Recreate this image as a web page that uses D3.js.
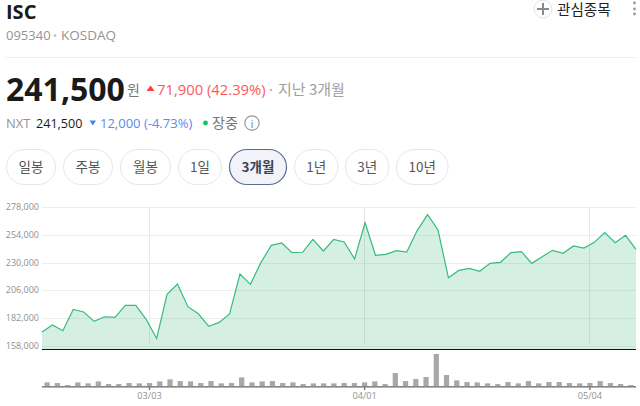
<!DOCTYPE html>
<html><head><meta charset="utf-8">
<script src="https://cdn.jsdelivr.net/npm/d3@7/dist/d3.min.js"></script>
<style>html,body{margin:0;padding:0;background:#fff;overflow:hidden}svg{display:block}
text{font-family:"Noto Sans CJK KR","Noto Sans",sans-serif}
.num{font-family:"Open Sans","Noto Sans CJK KR",sans-serif}</style></head><body><svg id="c" width="640" height="406"></svg>
<script>
const dates=["02/11","02/12","02/13","02/19","02/20","02/23","02/24","02/25","02/26","02/27","03/03","03/04","03/05","03/06","03/09","03/10","03/11","03/12","03/13","03/16","03/17","03/18","03/19","03/20","03/23","03/24","03/25","03/26","03/27","03/30","03/31","04/01","04/02","04/03","04/06","04/07","04/08","04/09","04/10","04/13","04/14","04/15","04/16","04/17","04/20","04/21","04/22","04/23","04/24","04/27","04/28","04/29","04/30","05/04","05/06","05/07","05/08","05/11"];
const prices=[169800,175900,171000,189500,187200,179100,183100,182600,193000,193000,180800,164300,202500,211500,191800,185700,174800,178200,185500,220200,211200,230000,245000,247100,238700,239000,250200,240100,250200,247900,233200,264700,236400,237200,240400,239200,257800,271600,258300,217000,223300,225100,222500,229400,230300,238700,239500,229400,235200,240700,238100,244500,242700,247600,256000,247300,253700,241500];
const volumes=[260,220,100,260,200,320,160,160,220,200,220,320,440,340,320,220,340,200,220,560,260,320,340,220,260,160,200,200,200,220,220,260,320,160,820,340,460,580,1960,700,380,280,260,200,160,280,200,340,200,280,280,220,200,220,340,220,160,100];
const yTicks=[158000,182000,206000,230000,254000,278000];
const xTicks=["03/03","04/01","05/04"];
const tabs=["일봉","주봉","월봉","1일","3개월","1년","3년","10년"];
const tabEdges=[[6,56],[63,113],[120,171],[178,222],[229,287],[294,338.5],[345,389.5],[396,448.5]];
const activeTab="3개월";

const svg=d3.select("#c");
const T=(x,y,s,size,fill,o={})=>svg.append("text").attr("x",x).attr("y",y).text(s).attr("font-size",size).attr("fill",fill)
  .attr("font-weight",o.w||400).attr("text-anchor",o.a||"start").attr("class",o.c||null);

// header
T(6,19,"ISC",20,"#1a1a1a",{w:700,c:"num"});
T(6,40,"095340",13,"#949494",{c:"num"});
svg.append("circle").attr("cx",55).attr("cy",35.5).attr("r",1.3).attr("fill","#bbb");
T(61,40,"KOSDAQ",13.5,"#949494",{c:"num"});
svg.append("line").attr("x1",6).attr("x2",636).attr("y1",57.5).attr("y2",57.5).attr("stroke","#eeeeee");
svg.append("circle").attr("cx",543).attr("cy",9).attr("r",9).attr("fill","#fff").attr("stroke","#e3e3e3");
svg.append("path").attr("d","M537 9H549M543 3V15").attr("stroke","#8a8a8a").attr("stroke-width",2);
T(557,15,"관심종목",14.6,"#222");
[3,9,14].forEach(y=>svg.append("circle").attr("cx",634.5).attr("cy",y).attr("r",1.4).attr("fill","#999"));

T(6,101,"241,500",32,"#1a1a1a",{w:700,c:"num"});
T(127,95,"원",14,"#777");
svg.append("path").attr("d","M146.5 91L150.5 85.5L154.5 91Z").attr("fill","#ff3b3b");
T(157,95,"71,900 (42.39%)",14.8,"#f95a5a",{c:"num"});
svg.append("circle").attr("cx",271).attr("cy",90).attr("r",1.3).attr("fill","#bbb");
T(278,95,"지난 3개월",15,"#a0a0a0");
T(6,128,"NXT",13,"#949494",{c:"num"});
T(36,128,"241,500",12.6,"#1a1a1a",{c:"num"});
svg.append("path").attr("d","M89.5 120.5L96 120.5L92.8 125.5Z").attr("fill","#4a84e8");
T(100,128,"12,000 (-4.73%)",13,"#5a8dee",{c:"num"});
svg.append("circle").attr("cx",205.5).attr("cy",123).attr("r",2.4).attr("fill","#12c45f");
T(212,128,"장중",14.2,"#777");
svg.append("circle").attr("cx",252).attr("cy",123).attr("r",7.2).attr("fill","none").attr("stroke","#999").attr("stroke-width",1.2);
T(252,127.5,"i",11,"#888",{a:"middle"});

// tabs
tabs.forEach((t,i)=>{
  const [a,b]=tabEdges[i],on=t===activeTab;
  svg.append("rect").attr("x",a+.5).attr("y",149.5).attr("width",b-a-1).attr("height",35).attr("rx",17.5)
    .attr("fill",on?"#f1f3f8":"#fff").attr("stroke",on?"#5b6c96":"#e6e6e6").attr("stroke-width",on?1.2:1);
  T((a+b)/2,172,t,13.5,on?"#3d4454":"#555",{a:"middle",w:on?700:400});
});

// scales
const L=42,R=636;
const xLine=d3.scalePoint().domain(dates).range([L,R]);
const xBand=d3.scaleBand().domain(dates).range([L,R]);
const xc=d=>xBand(d)+xBand.bandwidth()/2;
const y=d3.scaleLinear().domain([158000,278000]).range([345.7,207.3]);
const baseY=349.5;
const vol=d3.scaleLinear().domain([0,1960]).range([386.7,354]);

// grid
svg.append("g").selectAll("line").data(yTicks).join("line").attr("x1",L).attr("x2",R)
  .attr("y1",d=>Math.round(y(d))+.5).attr("y2",d=>Math.round(y(d))+.5).attr("stroke","#eeeeee");
svg.append("g").selectAll("line").data(xTicks).join("line").attr("x1",d=>Math.floor(xc(d))+.5).attr("x2",d=>Math.floor(xc(d))+.5)
  .attr("y1",207).attr("y2",345).attr("stroke","#e8e8e8");
svg.append("g").selectAll("text").data(yTicks).join("text").attr("x",39).attr("y",d=>y(d)+3).attr("text-anchor","end")
  .attr("font-size",9).attr("fill","#909090").attr("class","num").text(d3.format(","));

// area + line
svg.append("path").attr("d",d3.area().x((d,i)=>xLine(dates[i])).y0(baseY).y1(d=>y(d))(prices)).attr("fill","#2fb574").attr("fill-opacity",.2);
svg.append("path").attr("d",d3.line().x((d,i)=>xLine(dates[i])).y(d=>y(d))(prices)).attr("fill","none").attr("stroke","#36bb80").attr("stroke-width",1.2);
svg.append("line").attr("x1",L).attr("x2",R).attr("y1",349.5).attr("y2",349.5).attr("stroke","#111").attr("stroke-width",1.2);

// volume
svg.append("g").selectAll("rect").data(volumes).join("rect").attr("x",(d,i)=>xc(dates[i])-2.6).attr("width",5.2)
  .attr("y",d=>vol(d)).attr("height",d=>vol(0)-vol(d)).attr("fill","#a8a8a8");
svg.append("rect").attr("x",L).attr("width",R-L).attr("y",386).attr("height",1.6).attr("fill","#858585");
svg.append("g").selectAll("rect").data(xTicks).join("rect").attr("x",d=>xc(d)-.7).attr("width",1.4).attr("y",387).attr("height",3).attr("fill","#777");
svg.append("g").selectAll("text").data(xTicks).join("text").attr("x",d=>xc(d)).attr("y",399).attr("text-anchor","middle")
  .attr("font-size",9.2).attr("fill","#909090").attr("class","num").text(d=>d);
</script></body></html>
